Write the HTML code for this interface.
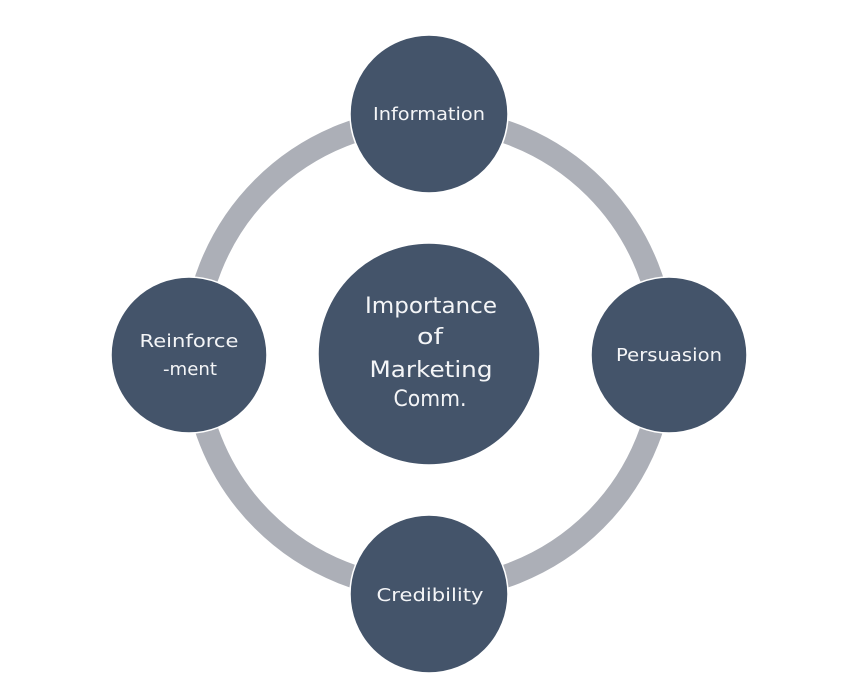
<!DOCTYPE html>
<html>
<head>
<meta charset="utf-8">
<style>
  html, body { margin: 0; padding: 0; background: #ffffff; }
  body { width: 852px; height: 691px; overflow: hidden; }
  svg { display: block; }
  text { font-family: "Comic Sans MS", "DejaVu Sans", "Liberation Sans", sans-serif; fill: #f4f5f7; }
</style>
</head>
<body>
<svg width="852" height="691" viewBox="0 0 852 691" xmlns="http://www.w3.org/2000/svg">
  <!-- ring -->
  <circle cx="429" cy="354" r="235" fill="none" stroke="#acafb7" stroke-width="23"/>

  <!-- nodes -->
  <g fill="#44546a" stroke="#ffffff" stroke-width="1.5">
    <circle cx="429" cy="114" r="79"/>
    <circle cx="669" cy="355" r="78"/>
    <circle cx="429" cy="594" r="79"/>
    <circle cx="189" cy="355" r="78"/>
    <circle cx="429" cy="354" r="111"/>
  </g>

  <!-- labels -->
  <text x="429" y="120" font-size="18" text-anchor="middle" textLength="112" lengthAdjust="spacingAndGlyphs">Information</text>
  <text x="669" y="361" font-size="18" text-anchor="middle" textLength="106" lengthAdjust="spacingAndGlyphs">Persuasion</text>
  <text x="430" y="601" font-size="18" text-anchor="middle" textLength="107" lengthAdjust="spacingAndGlyphs">Credibility</text>
  <text x="189" y="347" font-size="18" text-anchor="middle" textLength="99" lengthAdjust="spacingAndGlyphs">Reinforce</text>
  <text x="190" y="375" font-size="18" text-anchor="middle" textLength="54" lengthAdjust="spacingAndGlyphs">-ment</text>

  <text x="431" y="313" font-size="22" text-anchor="middle" textLength="132" lengthAdjust="spacingAndGlyphs">Importance</text>
  <text x="430" y="344" font-size="22" text-anchor="middle" textLength="26" lengthAdjust="spacingAndGlyphs">of</text>
  <text x="431" y="377" font-size="22" text-anchor="middle" textLength="123" lengthAdjust="spacingAndGlyphs">Marketing</text>
  <text x="430" y="406" font-size="22" text-anchor="middle" textLength="73" lengthAdjust="spacingAndGlyphs">Comm.</text>
</svg>
</body>
</html>
